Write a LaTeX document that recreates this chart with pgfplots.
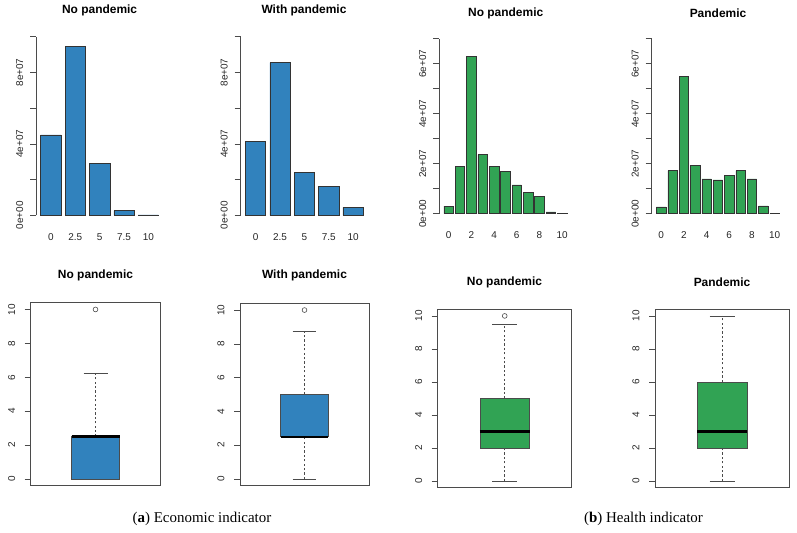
\documentclass[border=0pt]{standalone}
\usepackage{fontspec}
\setmainfont{Liberation Sans}
\newfontfamily\capfont{Liberation Serif}
\usepackage{pgfplots}
\pgfplotsset{compat=1.18}
\definecolor{rblue}{RGB}{49,130,189}
\definecolor{rgreen}{RGB}{49,163,84}
\definecolor{rline}{RGB}{75,75,75}

\pgfplotsset{
  rpanel/.style={
    scale only axis, anchor=south west, clip=false,
    tick align=outside, major tick length=6bp,
    tick style={rline, line width=0.6bp},
    tick label style={font=\fontsize{10}{12}\selectfont, black!85},
    yticklabel style={rotate=90, anchor=south, inner sep=0pt},
    ytick pos=left, scaled y ticks=false,
  },
  rhist/.style={rpanel,
    axis x line*=bottom, axis y line*=left,
    x axis line style={draw=none},
    y axis line style={rline, line width=0.6bp},
    xtick style={draw=none},
    xticklabel style={anchor=north, inner sep=0pt},
    xticklabel shift=12bp, yticklabel shift=6.7bp,
    ymin=0, bar width=0.8333,
  },
  rhistA/.style={rhist, width=127.2bp, height=178.5bp, xmin=-0.61, xmax=4.61, ymax=1e8,
    xtick={0,...,4}, xticklabels={0,2.5,5,7.5,10},
    ytick={0,2e7,4e7,6e7,8e7,1e8}, yticklabels={0e+00,,4e+07,,8e+07,}},
  rhistB/.style={rhist, width=132.8bp, height=175bp, xmin=-0.85, xmax=10.85, ymax=7e7,
    xtick={0,2,...,10}, xticklabels={0,2,4,6,8,10},
    ytick={0,1e7,2e7,3e7,4e7,5e7,6e7,7e7}, yticklabels={0e+00,,2e+07,,4e+07,,6e+07,}},
  rbox/.style={rpanel, xmin=0.46, xmax=1.54, ymin=-0.4, ymax=10.4,
    xtick=\empty, ytick={0,2,...,10}, yticklabels={0,2,4,6,8,10},
    yticklabel shift=9.4bp,
    axis line style={rline, line width=0.75bp}},
  bars/.style={ybar, draw=black!80, line width=0.5bp, fill=#1},
  boxb/.style={fill=#1, draw=rline, line width=0.75bp},
  med/.style={black, line width=2.2bp},
  whisk/.style={rline, line width=0.75bp, dash pattern=on 2.2bp off 2.2bp},
  cap/.style={rline, line width=0.75bp},
  outl/.style={only marks, mark=o, mark size=2.4bp, rline, mark options={line width=0.6bp}},
}

\begin{document}
\begin{tikzpicture}[x=1bp, y=1bp]
\useasboundingbox (0,0) rectangle (797,533);

% ---- top row: histograms ----
\begin{axis}[rhistA, at={(36bp,317.7bp)}]
\addplot[bars=rblue] coordinates {(0,4.50e7) (1,9.48e7) (2,2.91e7) (3,0.26e7) (4,0.02e7)};
\end{axis}
\begin{axis}[rhistA, at={(240.7bp,317.7bp)}]
\addplot[bars=rblue] coordinates {(0,4.12e7) (1,8.55e7) (2,2.41e7) (3,1.60e7) (4,0.45e7)};
\end{axis}
\begin{axis}[rhistB, at={(439bp,319.3bp)}]
\addplot[bars=rgreen] coordinates {(0,0.30e7) (1,1.90e7) (2,6.30e7) (3,2.36e7) (4,1.90e7)
  (5,1.70e7) (6,1.15e7) (7,0.84e7) (8,0.70e7) (9,0.07e7) (10,0.01e7)};
\end{axis}
\begin{axis}[rhistB, at={(651.5bp,319.3bp)}]
\addplot[bars=rgreen] coordinates {(0,0.27e7) (1,1.72e7) (2,5.48e7) (3,1.94e7) (4,1.39e7)
  (5,1.35e7) (6,1.52e7) (7,1.72e7) (8,1.39e7) (9,0.31e7) (10,0.01e7)};
\end{axis}

% ---- bottom row: boxplots ----
\begin{axis}[rbox, at={(30.7bp,47.3bp)}, width=129.6bp, height=183bp]
\addplot[whisk] coordinates {(1,2.5) (1,6.25)};
\addplot[cap] coordinates {(0.9,6.25) (1.1,6.25)};
\addplot[boxb=rblue] coordinates {(0.8,0) (1.2,0) (1.2,2.5) (0.8,2.5)} -- cycle;
\addplot[cap] coordinates {(0.9,0) (1.1,0)};
\addplot[med] coordinates {(0.8,2.5) (1.2,2.5)};
\addplot[outl] coordinates {(1,10)};
\end{axis}
\begin{axis}[rbox, at={(240bp,47.3bp)}, width=129bp, height=182.4bp]
\addplot[whisk] coordinates {(1,0) (1,2.5)};
\addplot[whisk] coordinates {(1,5) (1,8.75)};
\addplot[cap] coordinates {(0.9,8.75) (1.1,8.75)};
\addplot[cap] coordinates {(0.9,0) (1.1,0)};
\addplot[boxb=rblue] coordinates {(0.8,2.5) (1.2,2.5) (1.2,5) (0.8,5)} -- cycle;
\addplot[med] coordinates {(0.8,2.5) (1.2,2.5)};
\addplot[outl] coordinates {(1,10)};
\end{axis}
\begin{axis}[rbox, at={(437.7bp,45.3bp)}, width=134bp, height=178.4bp]
\addplot[whisk] coordinates {(1,0) (1,2)};
\addplot[whisk] coordinates {(1,5) (1,9.5)};
\addplot[cap] coordinates {(0.9,9.5) (1.1,9.5)};
\addplot[cap] coordinates {(0.9,0) (1.1,0)};
\addplot[boxb=rgreen] coordinates {(0.8,2) (1.2,2) (1.2,5) (0.8,5)} -- cycle;
\addplot[med] coordinates {(0.8,3) (1.2,3)};
\addplot[outl] coordinates {(1,10)};
\end{axis}
\begin{axis}[rbox, at={(655bp,45.3bp)}, width=134.3bp, height=178.4bp]
\addplot[whisk] coordinates {(1,0) (1,2)};
\addplot[whisk] coordinates {(1,6) (1,10)};
\addplot[cap] coordinates {(0.9,10) (1.1,10)};
\addplot[cap] coordinates {(0.9,0) (1.1,0)};
\addplot[boxb=rgreen] coordinates {(0.8,2) (1.2,2) (1.2,6) (0.8,6)} -- cycle;
\addplot[med] coordinates {(0.8,3) (1.2,3)};
\end{axis}

% ---- titles ----
\begin{scope}[every node/.style={font=\fontsize{12}{14}\selectfont\bfseries, inner sep=0pt}]
\node at (99.6,523) {No pandemic};
\node at (304,523) {With pandemic};
\node at (505.7,520) {No pandemic};
\node at (718,520) {Pandemic};
\node at (95.5,258) {No pandemic};
\node at (304.5,258) {With pandemic};
\node at (504.5,251) {No pandemic};
\node at (722,251) {Pandemic};
\end{scope}
\node[font=\capfont\fontsize{15}{17}\selectfont] at (202,14) {(\textbf{a}) Economic indicator};
\node[font=\capfont\fontsize{15}{17}\selectfont] at (643.5,14) {(\textbf{b}) Health indicator};
\end{tikzpicture}
\end{document}
